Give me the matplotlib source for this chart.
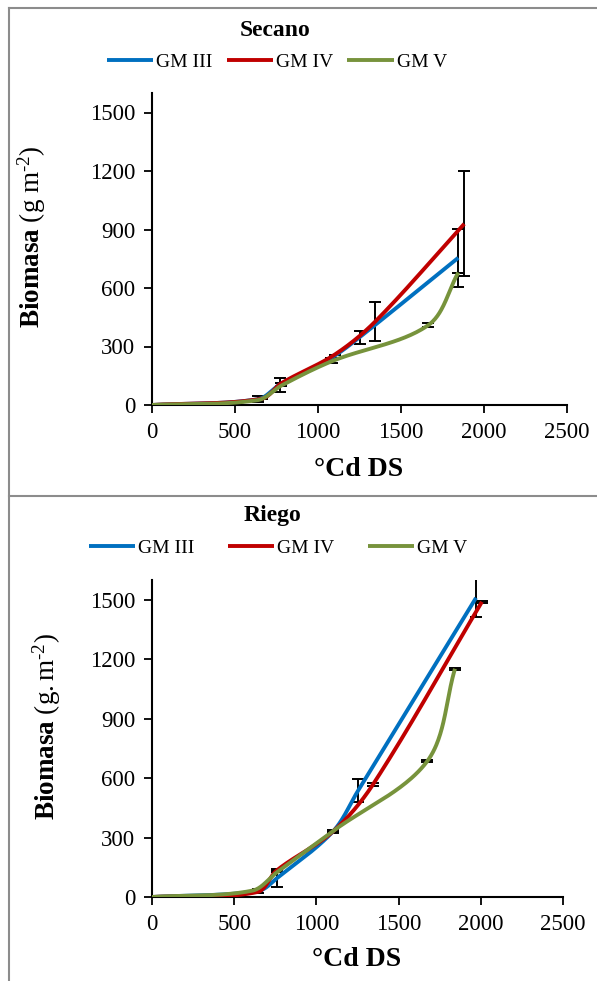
import numpy as np
import matplotlib
matplotlib.use("Agg")
import matplotlib.pyplot as plt
from matplotlib.lines import Line2D

plt.rcParams['font.family'] = ['Liberation Serif', 'DejaVu Serif']
plt.rcParams['mathtext.fontset'] = 'custom'
plt.rcParams['mathtext.rm'] = 'Liberation Serif'
plt.rcParams['mathtext.bf'] = 'Liberation Serif:bold'
plt.rcParams['mathtext.it'] = 'Liberation Serif:italic'

series_names = ["GM III", "GM IV", "GM V"]
colors = ["#0070C0", "#C00000", "#77933C"]

# Secano
sec_x = [
    [0, 640, 770, 1080, 1250, 1845],
    [0, 660, 780, 1100, 1346, 1881],
    [0, 637, 780, 1082, 1665, 1845],
]
sec_y = [
    [0, 30, 105, 242, 347, 755],
    [0, 32, 112, 258, 429, 929],
    [0, 25, 100, 224, 410, 679],
]
sec_err = [
    [0, 15, 36, 0, 34, 150],
    [0, 0, 0, 0, 100, 270],
    [0, 0, 0, 8, 10, 0],
]

# Riego
rie_x = [
    [0, 645, 760, 1100, 1253, 1971],
    [0, 640, 760, 1100, 1345, 2007],
    [0, 610, 760, 1100, 1673, 1843],
]
rie_y = [
    [0, 30, 95, 330, 536, 1510],
    [0, 25, 135, 330, 569, 1490],
    [0, 32, 125, 332, 684, 1152],
]
rie_err = [
    [0, 10, 46, 0, 58, 98],
    [0, 0, 0, 0, 8, 4],
    [0, 0, 0, 8, 5, 5],
]

xticks = [0, 500, 1000, 1500, 2000, 2500]
yticks = [0, 300, 600, 900, 1200, 1500]

W, H = 597, 981
fig = plt.figure(figsize=(W / 100, H / 100), dpi=100)


def smooth(xs, ys, sx, sy, n=50):
    # Bezier smoothing (spreadsheet-style) in screen-like coordinates
    P = np.column_stack([np.asarray(xs, float) * sx, np.asarray(ys, float) * sy])
    N = len(P)
    d = np.linalg.norm(np.diff(P, axis=0), axis=1)
    M = np.zeros_like(P)
    M[0] = (P[1] - P[0]) / d[0]
    M[-1] = (P[-1] - P[-2]) / d[-1]
    for i in range(1, N - 1):
        M[i] = (P[i + 1] - P[i - 1]) / (d[i - 1] + d[i])
    out = []
    t = np.linspace(0, 1, n)[:, None]
    for i in range(N - 1):
        p0 = P[i]
        p3 = P[i + 1]
        c1 = p0 + M[i] * d[i] / 3.0
        c2 = p3 - M[i + 1] * d[i] / 3.0
        b = ((1 - t) ** 3) * p0 + 3 * ((1 - t) ** 2) * t * c1 + 3 * (1 - t) * t ** 2 * c2 + t ** 3 * p3
        out.append(b if i == 0 else b[1:])
    out = np.vstack(out)
    return out[:, 0] / sx, out[:, 1] / sy


def panel(rect, xs, ys, errs):
    ax = fig.add_axes(rect)
    pw = rect[2] * W
    ph = rect[3] * H
    sx = pw / 2500.0
    sy = ph / 1600.0
    for i in range(3):
        ax.errorbar(xs[i], ys[i], yerr=errs[i], fmt='none', ecolor='black',
                    elinewidth=1.4, capsize=4.5, capthick=1.4, zorder=2)
    for i in range(3):
        cx, cy = smooth(xs[i], ys[i], sx, sy)
        ax.plot(cx, cy, color=colors[i], lw=2.8, solid_capstyle='butt', zorder=3,
                label=series_names[i])
    ax.set_xlim(0, 2500)
    ax.set_ylim(0, 1600)
    ax.set_xticks(xticks)
    ax.set_yticks(yticks)
    ax.set_xticklabels([str(v) for v in xticks])
    ax.set_yticklabels([str(v) for v in yticks])
    for s in ['top', 'right']:
        ax.spines[s].set_visible(False)
    for s in ['left', 'bottom']:
        ax.spines[s].set_linewidth(1.5)
        ax.spines[s].set_color('black')
    ax.tick_params(direction='out', length=6, width=1.3, labelsize=16.5, pad=6)
    return ax


ax1 = panel([152 / W, 1 - 405 / H, 415 / W, 312 / H], sec_x, sec_y, sec_err)
ax2 = panel([152 / W, 1 - 897 / H, 411 / W, 317 / H], rie_x, rie_y, rie_err)

# titles
fig.text(275 / W, 1 - 30 / H, "Secano", ha='center', va='center', fontsize=17, fontweight='bold')
fig.text(272 / W, 1 - 516 / H, "Riego", ha='center', va='center', fontsize=17, fontweight='bold')

# y labels
fig.text(32 / W, 1 - 237 / H, r"$\mathbf{Biomasa}\ (\mathrm{g\ m^{\text{-}2}})$", rotation=90,
         ha='center', va='center', fontsize=19.5)
fig.text(47 / W, 1 - 727 / H, r"$\mathbf{Biomasa}\ (\mathrm{g.m^{\text{-}2}})$", rotation=90,
         ha='center', va='center', fontsize=19.5)

# x labels
fig.text(359 / W, 1 - 470 / H, "°Cd DS", ha='center', va='center', fontsize=20, fontweight='bold')
fig.text(357 / W, 1 - 960 / H, "°Cd DS", ha='center', va='center', fontsize=20, fontweight='bold')

# legends
h1, l1 = ax1.get_legend_handles_labels()
fig.legend(h1, l1, loc='center', bbox_to_anchor=(277 / W, 1 - 62 / H), ncol=3, frameon=False,
           fontsize=14, handlelength=2.4, handletextpad=0.15, columnspacing=0.72)
h2, l2 = ax2.get_legend_handles_labels()
fig.legend(h2, l2, loc='center', bbox_to_anchor=(278 / W, 1 - 548 / H), ncol=3, frameon=False,
           fontsize=14, handlelength=2.4, handletextpad=0.15, columnspacing=1.7)

# frame lines
gray = '#8c8c8c'
fig.add_artist(Line2D([9 / W, 9 / W], [0, 1 - 8 / H], transform=fig.transFigure, color=gray, lw=1.5))
fig.add_artist(Line2D([9 / W, 1], [1 - 8 / H, 1 - 8 / H], transform=fig.transFigure, color=gray, lw=1.5))
fig.add_artist(Line2D([9 / W, 1], [1 - 496 / H, 1 - 496 / H], transform=fig.transFigure, color=gray, lw=1.5))

fig.savefig("out.png", dpi=100)
